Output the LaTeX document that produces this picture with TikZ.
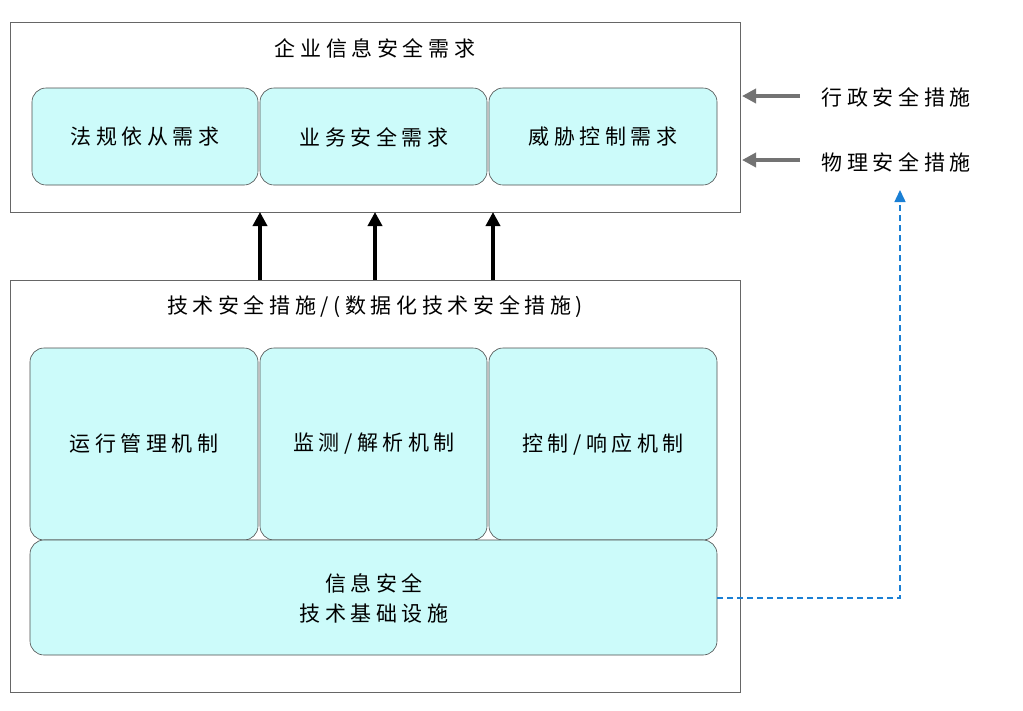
\documentclass[tikz,border=0pt]{standalone}
\usepackage{fontspec}
\setmainfont{Noto Sans CJK SC}[LetterSpace = 22]
\usetikzlibrary{positioning,arrows.meta}
\definecolor{boxfill}{HTML}{CCFBFA}
\definecolor{dashblue}{HTML}{1A7FD4}
\begin{document}
\begin{tikzpicture}[
    x = 1pt, y = -1pt,
    frame/.style = {draw = black!60, line width = 0.6pt},
    module/.style = {draw = black!70, fill = boxfill,
      rounded corners = 14pt, line width = 0.6pt},
    label/.style = {font = \fontsize{21}{30}\selectfont, align = center},
    uparrow/.style = {-{Triangle[length = 14pt, width = 14pt]},
      line width = 4.5pt},
    grayarrow/.style = {-{Triangle[length = 14pt, width = 14pt]},
      line width = 4pt, black!55},
    ]

    \useasboundingbox (0, 0) rectangle (1023, 710);

    % top frame
    \draw [frame] (10, 22) rectangle (740, 212);
    \node [label] (need) at (375, 48) {企业信息安全需求};
    \draw [module] (32, 88) rectangle (258, 185);
    \draw [module] (260, 88) rectangle (487, 185);
    \draw [module] (489, 88) rectangle (717, 185);
    \node [label] (law) at (145, 137) {法规依从需求};
    \node [label] (biz) at (374, 137) {业务安全需求};
    \node [label] (threat) at (603, 137) {威胁控制需求};

    % bottom frame
    \draw [frame] (10, 280) rectangle (740, 692);
    \node [label] (tech) at (375, 307) {技术安全措施/(数据化技术安全措施)};
    \draw [module] (30, 348) rectangle (258, 540);
    \draw [module] (260, 348) rectangle (487, 540);
    \draw [module] (489, 348) rectangle (717, 540);
    \draw [module] (30, 540) rectangle (717, 655);
    \node [label] (run) at (144, 444) {运行管理机制};
    \node [label] (mon) at (374, 444) {监测/解析机制};
    \node [label] (ctl) at (603, 444) {控制/响应机制};
    \node [label] (base) at (374, 598) {信息安全\\技术基础设施};

    % links
    \coordinate (t1) at (260, 212);
    \coordinate (t2) at (375, 212);
    \coordinate (t3) at (493, 212);
    \draw [uparrow] (260, 280) -- (t1);
    \draw [uparrow] (375, 280) -- (t2);
    \draw [uparrow] (493, 280) -- (t3);

    \node [label, anchor = west] (adm) at (818, 97) {行政安全措施};
    \node [label, anchor = west] (phy) at (818, 162) {物理安全措施};
    \coordinate (a1) at (742, 96);
    \coordinate (a2) at (742, 160);
    \draw [grayarrow] (800, 96) -- (a1);
    \draw [grayarrow] (800, 160) -- (a2);

    \coordinate (d0) at (717, 598);
    \coordinate (d1) at (900, 598);
    \coordinate (d2) at (900, 190);
    \draw [dashblue, dash pattern = on 6pt off 4pt, line width = 1.5pt,
      -{Triangle[length = 12pt, width = 11pt]}] (d0) -- (d1) -- (d2);

\end{tikzpicture}
\end{document}
